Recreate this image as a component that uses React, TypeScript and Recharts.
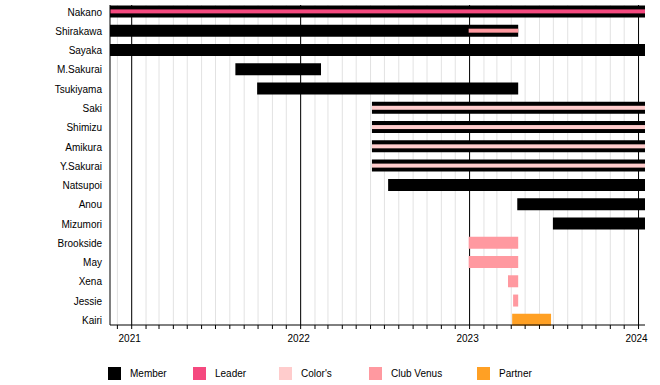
import { BarChart, Bar, XAxis, YAxis, CartesianGrid, Legend, Cell } from 'recharts';

const PERIOD_START = '2020-11-15';
const PERIOD_END = '2024-01-15';

const members = [
  'Nakano', 'Shirakawa', 'Sayaka', 'M.Sakurai', 'Tsukiyama', 'Saki', 'Shimizu', 'Amikura',
  'Y.Sakurai', 'Natsupoi', 'Anou', 'Mizumori', 'Brookside', 'May', 'Xena', 'Jessie', 'Kairi',
];

// main (thick) bar of each member
const mainRole = [
  'Member', 'Member', 'Member', 'Member', 'Member', 'Member', 'Member', 'Member',
  'Member', 'Member', 'Member', 'Member', 'Club Venus', 'Club Venus', 'Club Venus', 'Club Venus', 'Partner',
];
const mainFrom = [
  PERIOD_START, PERIOD_START, PERIOD_START, '2021-08-13', '2021-09-29', '2022-06-04', '2022-06-04', '2022-06-04',
  '2022-06-04', '2022-07-09', '2023-04-14', '2023-06-30', '2022-12-30', '2022-12-30', '2023-03-25', '2023-04-05', '2023-04-03',
];
const mainTill = [
  PERIOD_END, '2023-04-16', PERIOD_END, '2022-02-14', '2023-04-16', PERIOD_END, PERIOD_END, PERIOD_END,
  PERIOD_END, PERIOD_END, PERIOD_END, PERIOD_END, '2023-04-16', '2023-04-16', '2023-04-16', '2023-04-16', '2023-06-26',
];

// thin stripe drawn over the main bar
const stripeRole = [
  'Leader', 'Club Venus', null, null, null, "Color's", "Color's", "Color's",
  "Color's", null, null, null, null, null, null, null, null,
];
const stripeFrom = [
  PERIOD_START, '2022-12-30', null, null, null, '2022-06-04', '2022-06-04', '2022-06-04',
  '2022-06-04', null, null, null, null, null, null, null, null,
];
const stripeTill = [
  PERIOD_END, '2023-04-16', null, null, null, PERIOD_END, PERIOD_END, PERIOD_END,
  PERIOD_END, null, null, null, null, null, null, null, null,
];

const roles = ['Member', 'Leader', "Color's", 'Club Venus', 'Partner'];
const roleColors = ['#000000', '#f5497f', '#ffcccc', '#ff99a0', '#ffa024'];

const years = [2021, 2022, 2023, 2024];

const FONT = '"Liberation Sans", Arial, Helvetica, sans-serif';

// date string -> fractional year
const toYear = (d: string) => {
  const [y, m, dd] = d.split('-').map(Number);
  const start = Date.UTC(y, 0, 1);
  const next = Date.UTC(y + 1, 0, 1);
  return y + (Date.UTC(y, m - 1, dd) - start) / (next - start);
};

const colorOf = (role: string | null) => (role ? roleColors[roles.indexOf(role)] : null);

const data = members.map((name, i) => ({
  name,
  main: [toYear(mainFrom[i]), toYear(mainTill[i])],
  mainColor: colorOf(mainRole[i]),
  stripe: stripeRole[i] ? [toYear(stripeFrom[i] as string), toYear(stripeTill[i] as string)] : null,
  stripeColor: colorOf(stripeRole[i]),
}));

// monthly ticks, Dec 2020 .. Jan 2024
const monthTicks: number[] = [];
for (let y = 2020; y <= 2024; y++) {
  for (let m = 1; m <= 12; m++) {
    const v = toYear(`${y}-${String(m).padStart(2, '0')}-01`);
    if (v > toYear(PERIOD_START) && v < toYear(PERIOD_END)) monthTicks.push(v);
  }
}

const isYear = (v: number) => Math.abs(v - Math.round(v)) < 1e-6;

const YearTick = (props: any) => {
  const { x, y, payload } = props;
  if (!isYear(payload.value)) return <g />;
  return (
    <text x={x - 2} y={y} dy="0.71em" textAnchor="middle" fontSize={10} fill="#000" fontFamily={FONT}>
      {Math.round(payload.value)}
    </text>
  );
};

const NameTick = (props: any) => {
  const { x, y, payload } = props;
  return (
    <text x={x} y={y + 1} dy="0.355em" textAnchor="end" fontSize={10} fill="#000" fontFamily={FONT}>
      {payload.value}
    </text>
  );
};

const StripeShape = (props: any) => {
  const { x, y, width, height, payload } = props;
  if (!payload || !payload.stripeColor || !width) return <g />;
  return <rect x={x} y={y + height / 2 - 2} width={width} height={4} fill={payload.stripeColor} />;
};

const legendWidths = [85, 86, 90, 108, 80];

const TimelineLegend = () => (
  <div style={{ display: 'flex', paddingLeft: 108, height: 23, alignItems: 'center', fontFamily: FONT, fontSize: 10, color: '#000' }}>
    {roles.map((r, i) => (
      <div key={r} style={{ width: legendWidths[i], display: 'flex', alignItems: 'center' }}>
        <span style={{ display: 'inline-block', width: 13, height: 13, background: roleColors[i], marginRight: 9 }} />
        <span>{r}</span>
      </div>
    ))}
  </div>
);

export default function App() {
  return (
    <div style={{ position: 'absolute', left: 0, top: 0, width: 660, height: 385, background: '#fff', fontFamily: FONT }}>
      <BarChart
        width={660}
        height={385}
        data={data}
        layout="vertical"
        barGap={-12}
        margin={{ top: 5, right: 15, bottom: 7, left: 0 }}
      >
        <CartesianGrid horizontal={false} verticalValues={monthTicks} stroke="#e2e2e2" />
        <CartesianGrid horizontal={false} verticalValues={years} stroke="#000000" />
        <XAxis
          type="number"
          domain={[toYear(PERIOD_START), toYear(PERIOD_END)]}
          allowDataOverflow
          ticks={monthTicks}
          interval={0}
          tickFormatter={(v: number) => (isYear(v) ? String(Math.round(v)) : '')}
          tick={<YearTick />}
          tickSize={4}
          tickMargin={6}
          height={30}
          stroke="#000"
          tickLine={{ stroke: '#000' }}
          axisLine={{ stroke: '#000' }}
        />
        <YAxis
          type="category"
          dataKey="name"
          width={110}
          interval={0}
          tickLine={false}
          axisLine={{ stroke: '#000' }}
          padding={{ top: -3.6, bottom: -4.1 }}
          tick={<NameTick />}
        />
        <Bar dataKey="main" barSize={12} isAnimationActive={false}>
          {data.map((d) => (
            <Cell key={d.name} fill={d.mainColor as string} />
          ))}
        </Bar>
        <Bar dataKey="stripe" barSize={12} isAnimationActive={false} shape={StripeShape} />
        <Legend
          content={<TimelineLegend />}
          verticalAlign="bottom"
          wrapperStyle={{ left: 0, top: 362, bottom: 'auto', width: 660, height: 23 }}
        />
      </BarChart>
    </div>
  );
}
